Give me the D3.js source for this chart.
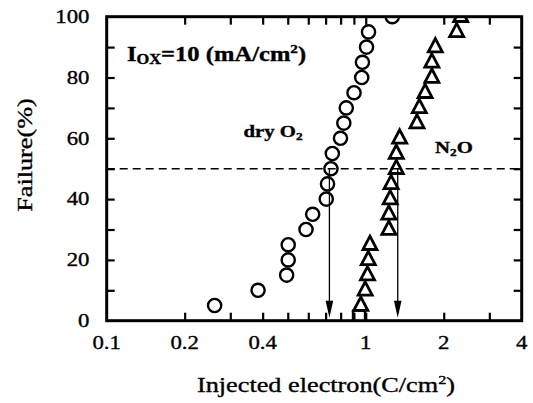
<!DOCTYPE html>
<html>
  <head>
    <meta charset="utf-8" />
    <title>failure vs injected electron</title>
    <script src="https://d3js.org/d3.v7.min.js"></script>
    <style>
      body { margin: 0; background: #fff; }
      text { font-family: "Liberation Serif", "Times New Roman", serif; fill: #000; stroke: #000; stroke-width: 0.35px; }
    </style>
  </head>
  <body>
    <script>
      // data
      const dryO2X = [0.261, 0.384, 0.495, 0.502, 0.502, 0.588, 0.624, 0.704, 0.712, 0.734,
                      0.743, 0.799, 0.823, 0.841, 0.901, 0.965, 0.971, 1.007, 1.025, 1.266];
      const dryO2Y = [5, 10, 15, 20, 25, 30, 35, 40, 45, 50, 55, 60, 65, 70, 75, 80, 85, 90, 95, 100];
      const n2oX = [0.957, 0.995, 1.016, 1.023, 1.038, 1.228, 1.228, 1.243, 1.253, 1.312,
                    1.312, 1.352, 1.577, 1.61, 1.695, 1.80, 1.80, 1.856, 2.244, 2.326];
      const n2oY = [5, 10, 15, 20, 25, 30, 35, 40, 45, 50, 55, 60, 65, 70, 75, 80, 85, 90, 95, 100];
      const squareX = [0.942];
      const squareY = [0];
      const arrowX = [0.724, 1.329];
      const medianLevel = 50;

      const xLabels = [0.1, 0.2, 0.4, 1, 2, 4];
      const xTickVals = [0.2, 0.3, 0.4, 0.5, 0.6, 0.7, 0.8, 0.9, 1, 2, 3];
      const yLabels = [0, 20, 40, 60, 80, 100];
      const yTickVals = [10, 20, 30, 40, 50, 60, 70, 80, 90];

      const width = 533, height = 403;
      const plotL = 106.7, plotR = 521.7, plotT = 16.7, plotB = 320.7;
      const sx = 1.2; // the scanned lettering is wider than Liberation Serif

      const svg = d3.select("body").append("svg")
        .attr("width", width)
        .attr("height", height);

      const x = d3.scaleLog().domain([0.1, 4]).range([plotL, plotR]);
      const y = d3.scaleLinear().domain([0, 100]).range([plotB, plotT]);

      svg.append("clipPath").attr("id", "plot")
        .append("rect")
        .attr("x", plotL).attr("y", plotT)
        .attr("width", plotR - plotL).attr("height", plotB - plotT);

      // inward ticks on all four sides
      const tick = 8;
      svg.append("g").attr("transform", `translate(0,${plotB})`)
        .call(d3.axisBottom(x).tickValues(xTickVals).tickSize(-tick).tickFormat(""));
      svg.append("g").attr("transform", `translate(0,${plotT})`)
        .call(d3.axisTop(x).tickValues(xTickVals).tickSize(-tick).tickFormat(""));
      svg.append("g").attr("transform", `translate(${plotL},0)`)
        .call(d3.axisLeft(y).tickValues(yTickVals).tickSize(-tick).tickFormat(""));
      svg.append("g").attr("transform", `translate(${plotR},0)`)
        .call(d3.axisRight(y).tickValues(yTickVals).tickSize(-tick).tickFormat(""));
      svg.selectAll(".domain").remove();
      svg.selectAll(".tick line").attr("stroke", "#000").attr("stroke-width", 2.2);

      // tick labels
      svg.append("g").selectAll("text")
        .data(xLabels)
        .join("text")
        .attr("transform", d => `translate(${x(d)},348.5) scale(${sx},1)`)
        .attr("text-anchor", "middle")
        .attr("font-size", 19)
        .text(d => d);

      svg.append("g").selectAll("text")
        .data(yLabels)
        .join("text")
        .attr("transform", d => `translate(89.5,${y(d) + 6.3}) scale(${sx},1)`)
        .attr("text-anchor", "end")
        .attr("font-size", 19)
        .text(d => d);

      // axis titles
      const xt = svg.append("text")
        .attr("transform", `translate(326,391.5) scale(1.25,1)`)
        .attr("text-anchor", "middle")
        .attr("font-size", 21);
      xt.append("tspan").text("Injected electron(C/cm");
      xt.append("tspan").attr("font-size", 13).attr("dy", -8).text("2");
      xt.append("tspan").attr("dy", 8).text(")");

      svg.append("text")
        .attr("transform", `translate(32,155) rotate(-90) scale(1.25,1)`)
        .attr("text-anchor", "middle")
        .attr("font-size", 21)
        .text("Failure(%)");

      // 50 % dashed line
      svg.append("line")
        .attr("x1", plotL).attr("x2", plotR)
        .attr("y1", y(medianLevel)).attr("y2", y(medianLevel))
        .attr("stroke", "#000")
        .attr("stroke-width", 1.4)
        .attr("stroke-dasharray", "8,5");

      // arrows down to the axis
      const arrows = svg.append("g");
      arrows.selectAll("line")
        .data(arrowX)
        .join("line")
        .attr("x1", d => x(d)).attr("x2", d => x(d))
        .attr("y1", y(medianLevel)).attr("y2", plotB - 10)
        .attr("stroke", "#000")
        .attr("stroke-width", 1.3);
      arrows.selectAll("path")
        .data(arrowX)
        .join("path")
        .attr("d", d => `M${x(d) - 3.8},${plotB - 20} L${x(d) + 3.8},${plotB - 20} L${x(d)},${plotB - 3} Z`)
        .attr("fill", "#000");

      const marks = svg.append("g").attr("clip-path", "url(#plot)");

      // dry O2 circles
      marks.selectAll("circle")
        .data(dryO2X.map((v, i) => [v, dryO2Y[i]]))
        .join("circle")
        .attr("cx", d => x(d[0]))
        .attr("cy", d => y(d[1]))
        .attr("r", 6.6)
        .attr("fill", "none")
        .attr("stroke", "#000")
        .attr("stroke-width", 2.4);

      // N2O triangles
      marks.selectAll(".tri")
        .data(n2oX.map((v, i) => [v, n2oY[i]]))
        .join("path")
        .attr("class", "tri")
        .attr("d", d => {
          const cx = x(d[0]), cy = y(d[1]);
          return `M${cx},${cy - 8.5} L${cx + 7},${cy + 4.8} L${cx - 7},${cy + 4.8} Z`;
        })
        .attr("fill", "none")
        .attr("stroke", "#000")
        .attr("stroke-width", 2.8)
        .attr("stroke-linejoin", "miter");

      marks.selectAll(".sq")
        .data(squareX.map((v, i) => [v, squareY[i]]))
        .join("rect")
        .attr("class", "sq")
        .attr("x", d => x(d[0]) - 6)
        .attr("y", d => y(d[1]) - 10)
        .attr("width", 12).attr("height", 20)
        .attr("fill", "none")
        .attr("stroke", "#000")
        .attr("stroke-width", 2.4);

      // frame
      svg.append("rect")
        .attr("x", plotL).attr("y", plotT)
        .attr("width", plotR - plotL).attr("height", plotB - plotT)
        .attr("fill", "none")
        .attr("stroke", "#000")
        .attr("stroke-width", 3);

      // annotations
      const iox = svg.append("text")
        .attr("transform", `translate(127,60.5) scale(1.17,1)`)
        .attr("font-size", 21)
        .attr("font-weight", "bold");
      iox.append("tspan").text("I");
      iox.append("tspan").attr("font-size", 14).attr("dy", 3.5).text("OX");
      iox.append("tspan").attr("dy", -3.5).text("=10 (mA/cm");
      iox.append("tspan").attr("font-size", 13).attr("dy", -8).text("2");
      iox.append("tspan").attr("dy", 8).text(")");

      const dry = svg.append("text")
        .attr("transform", `translate(243.5,136.5) scale(1.22,1)`)
        .attr("font-size", 17)
        .attr("font-weight", "bold");
      dry.append("tspan").text("dry O");
      dry.append("tspan").attr("font-size", 11).attr("dy", 3).text("2");

      const n2o = svg.append("text")
        .attr("transform", `translate(435,153.3) scale(1.22,1)`)
        .attr("font-size", 17)
        .attr("font-weight", "bold");
      n2o.append("tspan").text("N");
      n2o.append("tspan").attr("font-size", 11).attr("dy", 3).text("2");
      n2o.append("tspan").attr("dy", -3).text("O");
    </script>
  </body>
</html>
